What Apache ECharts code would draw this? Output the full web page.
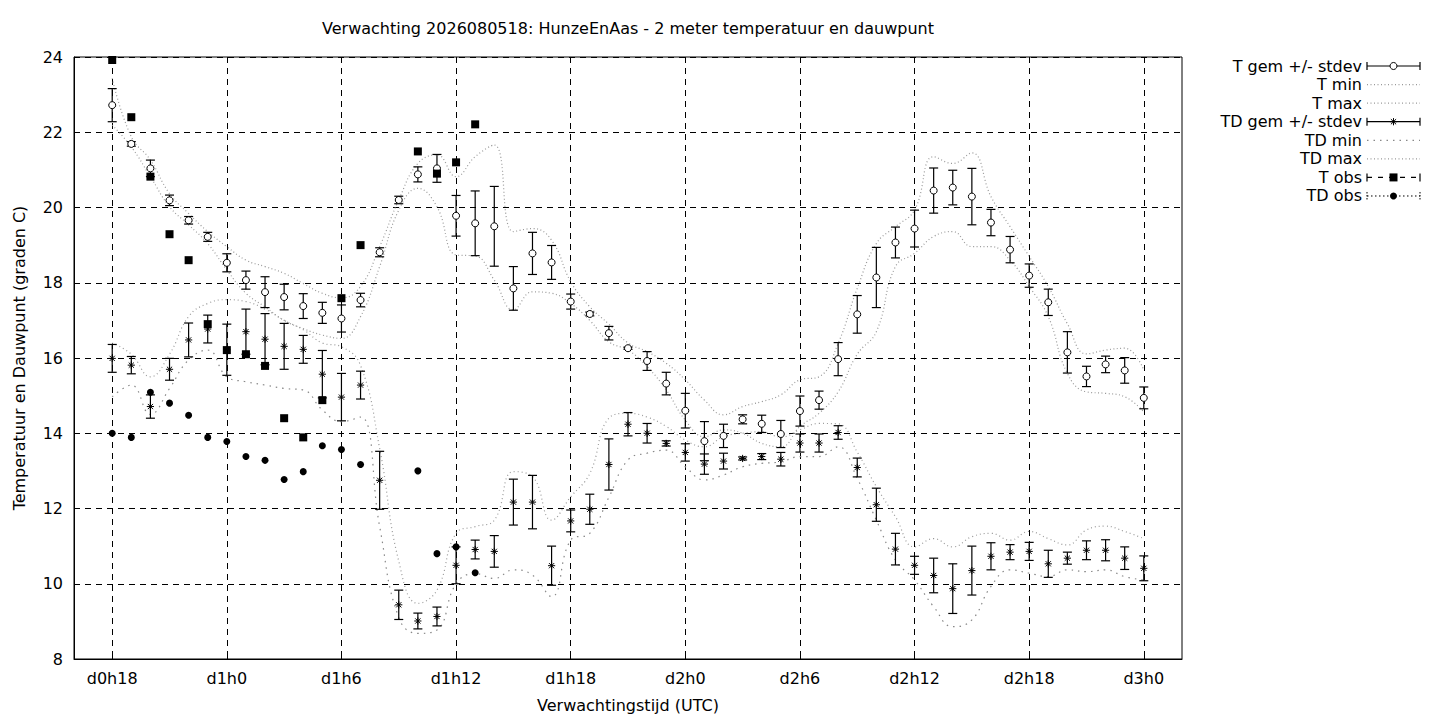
<!DOCTYPE html>
<html>
<head>
<meta charset="utf-8">
<title>Verwachting HunzeEnAas - 2 meter temperatuur en dauwpunt</title>
<script src="https://cdn.jsdelivr.net/npm/echarts@6/dist/echarts.min.js"></script>
<style>
  html, body { margin: 0; padding: 0; background: #fff; }
  #chart { width: 1440px; height: 720px; }
</style>
</head>
<body>
<div id="chart"></div>
<script>
// forecast hours since d0h0
var hours = [18, 19, 20, 21, 22, 23, 24, 25, 26, 27, 28, 29, 30, 31, 32, 33, 34, 35, 36, 37,
             38, 39, 40, 41, 42, 43, 44, 45, 46, 47, 48, 49, 50, 51, 52, 53, 54, 55, 56, 57,
             58, 59, 60, 61, 62, 63, 64, 65, 66, 67, 68, 69, 70, 71, 72];

var tGem = [22.72, 21.69, 21.04, 20.19, 19.66, 19.22, 18.53, 18.07, 17.75, 17.62,
            17.38, 17.2, 17.05, 17.54, 18.81, 20.2, 20.88, 21.04, 19.78, 19.58,
            19.5, 17.85, 18.78, 18.54, 17.5, 17.17, 16.66, 16.26, 15.92, 15.32,
            14.6, 13.79, 13.93, 14.37, 14.25, 13.98, 14.59, 14.88, 15.97, 17.16,
            18.14, 19.07, 19.44, 20.45, 20.53, 20.29, 19.6, 18.88, 18.19, 17.48,
            16.15, 15.51, 15.83, 15.67, 14.94];
var tSd = [0.44, 0.06, 0.22, 0.14, 0.1, 0.12, 0.24, 0.24, 0.41, 0.34,
           0.33, 0.28, 0.36, 0.18, 0.12, 0.1, 0.2, 0.37, 0.54, 0.86,
           1.06, 0.58, 0.56, 0.45, 0.2, 0.05, 0.18, 0.03, 0.25, 0.3,
           0.46, 0.52, 0.31, 0.12, 0.23, 0.36, 0.4, 0.24, 0.44, 0.5,
           0.8, 0.41, 0.49, 0.6, 0.46, 0.75, 0.35, 0.35, 0.31, 0.35,
           0.55, 0.27, 0.22, 0.34, 0.29];
var tMin = [22.19, 21.61, 20.82, 20.02, 19.54, 19.04, 18.34, 17.72, 17.36, 17.0,
            16.78, 16.61, 16.52, 17.1, 18.43, 19.93, 20.51, 20.02, 18.74, 18.71,
            18.07, 17.28, 17.76, 17.72, 17.45, 17.0, 16.43, 16.21, 15.77, 15.15,
            14.35, 13.91, 14.09, 14.0, 13.73, 13.64, 14.18, 14.53, 15.1, 16.1,
            16.7, 18.43, 18.78, 19.23, 19.36, 18.96, 18.96, 18.6, 17.9, 17.1,
            15.59, 15.1, 15.06, 14.97, 14.57];
var tMax = [23.43, 21.88, 21.26, 20.37, 19.84, 19.36, 18.96, 18.6, 18.43, 18.25,
            17.98, 17.72, 17.6, 17.9, 18.96, 20.2, 21.17, 21.4, 20.82, 21.35,
            21.66, 19.36, 19.44, 19.13, 18.03, 17.36, 16.9, 16.4, 16.17, 15.86,
            15.42, 14.88, 14.49, 14.71, 14.84, 15.02, 15.42, 15.5, 16.39, 17.85,
            19.04, 19.49, 19.93, 21.35, 21.17, 21.45, 20.29, 19.49, 18.7, 17.9,
            16.91, 16.11, 16.21, 16.26, 15.68];

var tdGem = [15.99, 15.81, 14.71, 15.7, 16.48, 16.77, 16.22, 16.7, 16.5, 16.31,
             16.23, 15.57, 14.96, 15.28, 12.75, 9.44, 9.01, 9.13, 10.49, 10.91,
             10.86, 12.17, 12.17, 10.48, 11.67, 11.98, 13.17, 14.24, 14.0, 13.73,
             13.49, 13.18, 13.26, 13.33, 13.38, 13.31, 13.74, 13.74, 14.02, 13.09,
             12.1, 10.92, 10.49, 10.22, 9.87, 10.35, 10.73, 10.84, 10.86, 10.53,
             10.68, 10.89, 10.89, 10.68, 10.41];
var tdSd = [0.37, 0.23, 0.31, 0.29, 0.45, 0.37, 0.68, 0.6, 0.68, 0.61,
            0.37, 0.63, 0.63, 0.37, 0.77, 0.39, 0.21, 0.25, 0.49, 0.25,
            0.42, 0.61, 0.71, 0.52, 0.29, 0.4, 0.68, 0.31, 0.26, 0.07,
            0.23, 0.27, 0.21, 0.04, 0.08, 0.18, 0.24, 0.24, 0.18, 0.25,
            0.44, 0.42, 0.24, 0.46, 0.66, 0.65, 0.36, 0.2, 0.24, 0.36,
            0.16, 0.25, 0.28, 0.3, 0.33];
var tdMin = [14.97, 15.28, 14.5, 15.19, 15.95, 16.21, 15.5, 15.37, 15.28, 15.19,
             15.15, 14.62, 14.31, 14.43, 11.52, 9.1, 8.68, 8.77, 10.0, 10.27,
             10.14, 10.37, 10.23, 9.66, 11.16, 11.34, 12.3, 13.29, 13.47, 13.55,
             13.11, 12.76, 12.89, 13.11, 13.2, 13.24, 13.38, 13.38, 13.64, 12.8,
             11.69, 10.63, 10.1, 9.39, 8.86, 9.04, 9.93, 10.37, 10.28, 10.19,
             10.37, 10.32, 10.37, 10.19, 10.1];
var tdMax = [16.4, 16.1, 15.5, 16.1, 17.1, 17.45, 17.55, 17.5, 17.3, 17.0,
             16.75, 16.4, 16.3, 15.8, 13.6, 10.6, 9.48, 9.83, 11.34, 11.52,
             11.69, 12.98, 12.85, 11.69, 12.31, 12.93, 14.4, 14.53, 14.43, 14.18,
             13.82, 13.64, 13.91, 14.0, 14.04, 13.9, 14.09, 14.26, 14.25, 13.5,
             12.58, 11.78, 10.98, 11.2, 10.98, 11.25, 11.34, 11.16, 11.39, 11.2,
             11.03, 11.43, 11.53, 11.39, 11.2];

// observations
var obsHours = [18, 19, 20, 21, 22, 23, 24, 25, 26, 27, 28, 29, 30, 31, 34, 35, 36, 37];
var tObs = [23.92, 22.40, 20.82, 19.29, 18.6, 16.9, 16.21, 16.10, 15.79, 14.40,
            13.89, 14.88, 17.59, 19.0, 21.49, 20.9, 21.2, 22.21];
var tdObs = [14.0, 13.89, 15.09, 14.8, 14.48, 13.89, 13.78, 13.38, 13.28, 12.77,
             12.98, 13.67, 13.57, 13.17, 13.0, 10.8, 10.98, 10.29];

var tickHours = [18, 24, 30, 36, 42, 48, 54, 60, 66, 72];
var tickLabels = ['d0h18', 'd1h0', 'd1h6', 'd1h12', 'd1h18', 'd2h0', 'd2h6', 'd2h12', 'd2h18', 'd3h0'];

var FONT = '"DejaVu Sans", sans-serif';
var FS = 16;
var capW = 4.5;

function pairs(xs, ys) {
    return xs.map(function (x, i) { return [x, ys[i]]; });
}
function triples(xs, ys, es) {
    return xs.map(function (x, i) { return [x, ys[i], es[i]]; });
}

function ln(x1, y1, x2, y2, w, dash, color) {
    return {
        type: 'line',
        shape: { x1: x1, y1: y1, x2: x2, y2: y2 },
        style: { stroke: color || '#000', lineWidth: w || 1.2, lineDash: dash || null }
    };
}

function circleMark(x, y) {
    return [{ type: 'circle', shape: { cx: x, cy: y, r: 3.5 },
              style: { fill: '#fff', stroke: '#000', lineWidth: 1 } }];
}
function starMark(x, y) {
    var r = 3.6, d = 2.6;
    return [ln(x - r, y, x + r, y, 1), ln(x, y - r, x, y + r, 1),
            ln(x - d, y - d, x + d, y + d, 1), ln(x - d, y + d, x + d, y - d, 1)];
}

function errorBars(marker) {
    return function (params, api) {
        var x = api.value(0), m = api.value(1), sd = api.value(2);
        var c = api.coord([x, m]);
        var hi = api.coord([x, m + sd])[1];
        var lo = api.coord([x, m - sd])[1];
        var kids = [
            ln(c[0], hi, c[0], lo),
            ln(c[0] - capW, hi, c[0] + capW, hi),
            ln(c[0] - capW, lo, c[0] + capW, lo)
        ].concat(marker(c[0], c[1]));
        return { type: 'group', children: kids };
    };
}

function envelope(name, values, dash, color) {
    return {
        name: name,
        type: 'line',
        data: pairs(hours, values),
        smooth: 0.45,
        showSymbol: false,
        silent: true,
        lineStyle: { color: color, width: 1.2, type: dash },
        z: 2
    };
}

// legend on the right, drawn like gnuplot's key
var legendNames = ['T gem +/- stdev', 'T min', 'T max', 'TD gem +/- stdev',
                   'TD min', 'TD max', 'T obs', 'TD obs'];
var lx1 = 1367, lx2 = 1420, lxc = 1393.5;
var legendEls = [];
legendNames.forEach(function (name, i) {
    var y = 66 + i * 18.57;
    legendEls.push({
        type: 'text', x: 1362, y: y,
        style: { text: name, textAlign: 'right', textVerticalAlign: 'middle',
                 font: FS + 'px ' + FONT, fill: '#000' }
    });
    var s = [];
    if (i === 0 || i === 3) {
        s.push(ln(lx1, y, lx2, y), ln(lx1, y - 4, lx1, y + 4), ln(lx2, y - 4, lx2, y + 4));
        s = s.concat(i === 0 ? circleMark(lxc, y) : starMark(lxc, y));
    } else if (i === 1 || i === 2 || i === 5) {
        s.push(ln(lx1, y, lx2, y, 1.2, [1, 2.5], '#999'));
    } else if (i === 4) {
        s.push(ln(lx1, y, lx2, y, 1.2, [1.5, 5], '#888'));
    } else if (i === 6) {
        s.push(ln(lx1, y, lx2, y, 1.2, [5, 6]), ln(lx1, y - 4, lx1, y + 4), ln(lx2, y - 4, lx2, y + 4));
        s.push({ type: 'rect', shape: { x: lxc - 4, y: y - 4, width: 8, height: 8 }, style: { fill: '#000' } });
    } else {
        s.push(ln(lx1, y, lx2, y, 1, [1.5, 2.5]), ln(lx1, y - 4, lx1, y + 4, 1, [1.5, 1.5]),
               ln(lx2, y - 4, lx2, y + 4, 1, [1.5, 1.5]));
        s.push({ type: 'circle', shape: { cx: lxc, cy: y, r: 3.5 }, style: { fill: '#000' } });
    }
    legendEls = legendEls.concat(s);
});

var option = {
    backgroundColor: '#fff',
    animation: false,
    title: {
        text: 'Verwachting 2026080518: HunzeEnAas - 2 meter temperatuur en dauwpunt',
        left: 628,
        top: 20,
        padding: 0,
        textAlign: 'center',
        textStyle: { fontFamily: FONT, fontSize: FS, fontWeight: 'normal', color: '#000' }
    },
    grid: {
        left: 74, right: 258, top: 57, bottom: 61,
        show: true, borderColor: '#000', borderWidth: 1, backgroundColor: 'transparent'
    },
    xAxis: {
        type: 'value',
        min: 16,
        max: 74,
        name: 'Verwachtingstijd (UTC)',
        nameLocation: 'middle',
        nameGap: 38,
        nameTextStyle: { fontFamily: FONT, fontSize: FS, color: '#000' },
        axisLine: { show: true, lineStyle: { color: '#000', width: 1 } },
        axisTick: { show: true, inside: true, length: 6, customValues: tickHours,
                    lineStyle: { color: '#000' } },
        axisLabel: {
            customValues: tickHours,
            margin: 11,
            fontFamily: FONT, fontSize: FS, color: '#000',
            formatter: function (v) { return tickLabels[tickHours.indexOf(v)]; }
        },
        splitLine: { show: true, lineStyle: { color: '#000', width: 1, type: [6, 5] } }
    },
    yAxis: {
        type: 'value',
        min: 8,
        max: 24,
        interval: 2,
        name: 'Temperatuur en Dauwpunt (graden C)',
        nameLocation: 'middle',
        nameGap: 47,
        nameTextStyle: { fontFamily: FONT, fontSize: FS, color: '#000' },
        axisLine: { show: true, lineStyle: { color: '#000', width: 1 } },
        axisTick: { show: true, inside: true, length: 6, lineStyle: { color: '#000' } },
        axisLabel: { margin: 11, fontFamily: FONT, fontSize: FS, color: '#000' },
        splitLine: { show: true, lineStyle: { color: '#000', width: 1, type: [6, 5] } }
    },
    graphic: { elements: legendEls },
    series: [
        {
            name: 'T gem +/- stdev',
            type: 'custom',
            renderItem: errorBars(circleMark),
            data: triples(hours, tGem, tSd),
            encode: { x: 0, y: 1 },
            z: 3
        },
        envelope('T min', tMin, [1, 2.5], '#999'),
        envelope('T max', tMax, [1, 2.5], '#999'),
        {
            name: 'TD gem +/- stdev',
            type: 'custom',
            renderItem: errorBars(starMark),
            data: triples(hours, tdGem, tdSd),
            encode: { x: 0, y: 1 },
            z: 3
        },
        envelope('TD min', tdMin, [1.5, 5], '#888'),
        envelope('TD max', tdMax, [1, 3], '#999'),
        {
            name: 'T obs',
            type: 'scatter',
            data: pairs(obsHours, tObs),
            symbol: 'rect',
            symbolSize: 8,
            itemStyle: { color: '#000', opacity: 1 },
            z: 4
        },
        {
            name: 'TD obs',
            type: 'scatter',
            data: pairs(obsHours, tdObs),
            symbol: 'circle',
            symbolSize: 7,
            itemStyle: { color: '#000', opacity: 1 },
            z: 4
        }
    ]
};

var chart = echarts.init(document.getElementById('chart'), null, { renderer: 'svg' });
chart.setOption(option);
</script>
</body>
</html>
